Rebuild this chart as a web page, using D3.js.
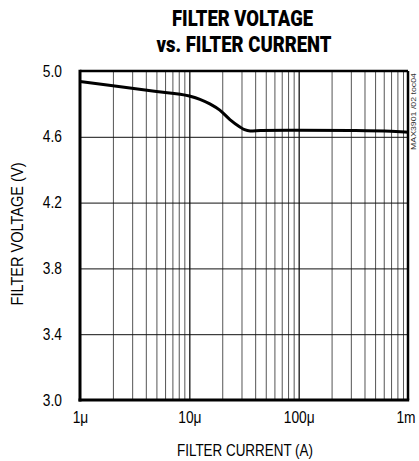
<!DOCTYPE html>
<html>
<head>
<meta charset="utf-8">
<script src="https://cdn.jsdelivr.net/npm/d3@7"></script>
<style>
  html, body { margin: 0; padding: 0; background: #fff; }
  svg { display: block; }
  .narrow { font-family: "Liberation Sans Narrow", "Liberation Sans", Arial, sans-serif; }
</style>
</head>
<body>
<div id="chart"></div>
<script>
// ---- data ----
const titleLines = ["FILTER VOLTAGE", "vs. FILTER CURRENT"];
const xTitle = "FILTER CURRENT (A)";
const yTitle = "FILTER VOLTAGE (V)";
const noteText = "MAX3901 /02 toc04";

const currentA = [1e-6, 2e-6, 5e-6, 10e-6, 12.5e-6, 15.4e-6, 19e-6, 23.5e-6, 29e-6, 32e-6, 36e-6, 45e-6, 100e-6, 300e-6, 700e-6, 1000e-6];
const voltageV = [4.936, 4.91, 4.875, 4.848, 4.828, 4.80, 4.762, 4.705, 4.66, 4.643, 4.636, 4.638, 4.640, 4.638, 4.633, 4.628];

const xTickValues = [1e-6, 1e-5, 1e-4, 1e-3];
const xTickLabels = ["1\u03bc", "10\u03bc", "100\u03bc", "1m"];
const yTickValues = [3.0, 3.4, 3.8, 4.2, 4.6, 5.0];
const yTickLabels = ["3.0", "3.4", "3.8", "4.2", "4.6", "5.0"];

// ---- layout ----
const W = 419, H = 461;
const L = 80, R = 408, T = 71, B = 400;

const svg = d3.select("#chart").append("svg").attr("width", W).attr("height", H);

const x = d3.scaleLog().domain([1e-6, 1e-3]).range([L, R]);
const y = d3.scaleLinear().domain([3.0, 5.0]).range([B, T]);

function condense(sel, f) {
  sel.each(function () {
    const n = this.getComputedTextLength();
    d3.select(this).attr("textLength", n * f).attr("lengthAdjust", "spacingAndGlyphs");
  });
}

// minor/major vertical grid values
const minorX = [];
for (let k = -6; k < -3; k++) {
  for (let m = 2; m <= 9; m++) minorX.push(m * Math.pow(10, k));
}
const majorX = xTickValues.slice(1, -1);

const gMinor = svg.append("g").attr("transform", `translate(0,${B})`)
  .call(d3.axisBottom(x).tickValues(minorX).tickSize(-(B - T)).tickFormat(""));
gMinor.select(".domain").remove();
gMinor.selectAll("line").attr("stroke", "#555").attr("stroke-width", 1);

const gMajor = svg.append("g").attr("transform", `translate(0,${B})`)
  .call(d3.axisBottom(x).tickValues(majorX).tickSize(-(B - T)).tickFormat(""));
gMajor.select(".domain").remove();
gMajor.selectAll("line").attr("stroke", "#000").attr("stroke-width", 1.2);

const gH = svg.append("g").attr("transform", `translate(${L},0)`)
  .call(d3.axisLeft(y).tickValues(yTickValues.slice(1, -1)).tickSize(-(R - L)).tickFormat(""));
gH.select(".domain").remove();
gH.selectAll("line").attr("stroke", "#111").attr("stroke-width", 1);

// frame
svg.append("line").attr("x1", L).attr("x2", R).attr("y1", T).attr("y2", T).attr("stroke", "#000").attr("stroke-width", 2.5);
svg.append("line").attr("x1", R).attr("x2", R).attr("y1", T).attr("y2", B).attr("stroke", "#000").attr("stroke-width", 2.5);
svg.append("line").attr("x1", L).attr("x2", L).attr("y1", T - 1.2).attr("y2", B + 1.5).attr("stroke", "#000").attr("stroke-width", 3);
svg.append("line").attr("x1", L - 1.5).attr("x2", R + 1.2).attr("y1", B).attr("y2", B).attr("stroke", "#000").attr("stroke-width", 3);

// data line
const pts = currentA.map((c, i) => [x(c), y(voltageV[i])]);
svg.append("path")
  .attr("d", d3.line().curve(d3.curveMonotoneX)(pts))
  .attr("fill", "none").attr("stroke", "#000").attr("stroke-width", 3)
  .attr("stroke-linejoin", "round");

// x tick labels
const gxl = svg.append("g").attr("transform", `translate(0,${B})`)
  .call(d3.axisBottom(x).tickValues(xTickValues).tickSize(0).tickPadding(12)
    .tickFormat((d, i) => xTickLabels[i]));
gxl.select(".domain").remove();
gxl.selectAll("text").attr("class", "narrow").attr("font-size", 16).attr("fill", "#000")
  .attr("font-family", null);
condense(gxl.selectAll("text"), 0.86);
gxl.selectAll("text").filter((d, i) => i === xTickLabels.length - 1).attr("text-anchor", "end").attr("x", 7);

// y tick labels
const gyl = svg.append("g").attr("transform", `translate(${L},0)`)
  .call(d3.axisLeft(y).tickValues(yTickValues).tickSize(0).tickPadding(18)
    .tickFormat((d, i) => yTickLabels[i]));
gyl.select(".domain").remove();
gyl.selectAll("text").attr("class", "narrow").attr("font-size", 16).attr("fill", "#000")
  .attr("font-family", null);
condense(gyl.selectAll("text"), 0.86);

// titles
const titleFont = "Roboto, 'DejaVu Sans Condensed', sans-serif";
svg.append("text").attr("x", 242.5).attr("y", 26).attr("text-anchor", "middle")
  .attr("font-family", titleFont).attr("font-weight", 900)
  .attr("font-size", 21.5).attr("textLength", 141).attr("lengthAdjust", "spacingAndGlyphs")
  .text(titleLines[0]);
svg.append("text").attr("x", 244).attr("y", 52).attr("text-anchor", "middle")
  .attr("font-family", titleFont).attr("font-weight", 900)
  .attr("font-size", 21.5).attr("textLength", 175).attr("lengthAdjust", "spacingAndGlyphs")
  .text(titleLines[1]);

// axis titles
svg.append("text").attr("class", "narrow").attr("x", 245).attr("y", 456).attr("text-anchor", "middle")
  .attr("font-size", 16).attr("textLength", 136).attr("lengthAdjust", "spacingAndGlyphs").text(xTitle);
svg.append("text").attr("class", "narrow").attr("transform", "translate(22.5,234) rotate(-90)")
  .attr("text-anchor", "middle").attr("font-size", 16)
  .attr("textLength", 143).attr("lengthAdjust", "spacingAndGlyphs").text(yTitle);

// side note
svg.append("text").attr("transform", "translate(416,73) rotate(-90)")
  .attr("text-anchor", "end").attr("font-family", "'Liberation Sans', sans-serif")
  .attr("font-size", 7.5).attr("fill", "#333").attr("textLength", 77).attr("lengthAdjust", "spacingAndGlyphs")
  .text(noteText);
</script>
</body>
</html>
